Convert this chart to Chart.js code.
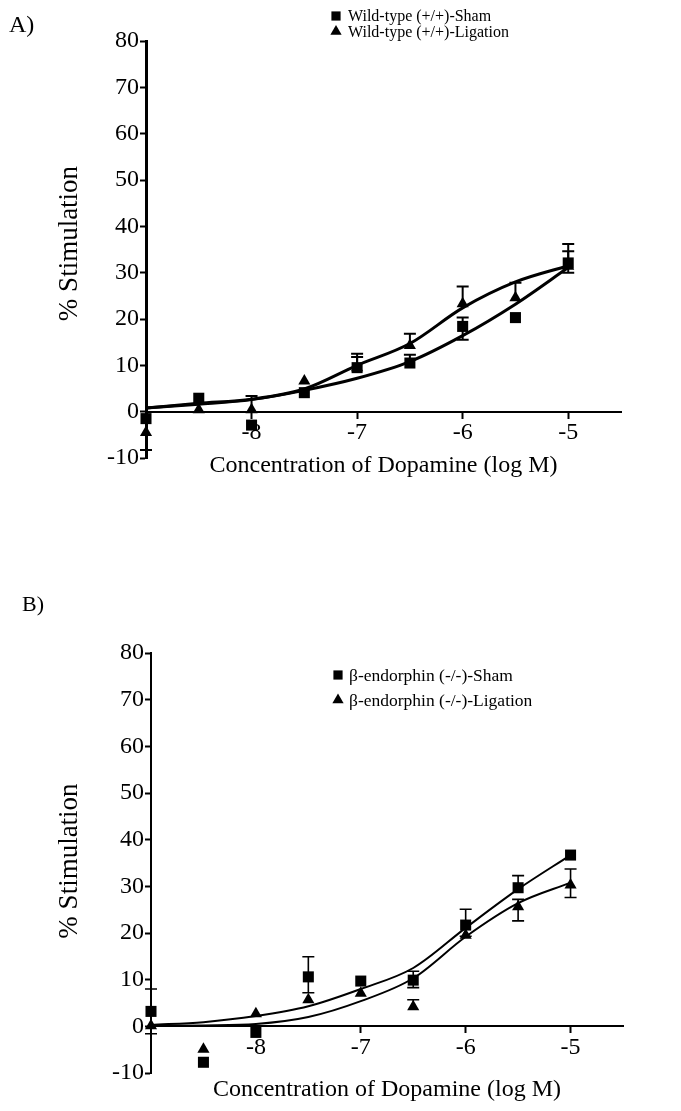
<!DOCTYPE html>
<html>
<head>
<meta charset="utf-8">
<script src="https://cdn.jsdelivr.net/npm/chart.js@4.4.0/dist/chart.umd.min.js"></script>
<style>
  html, body { margin: 0; padding: 0; background: #fff; width: 681px; height: 1111px; overflow: hidden; }
  .panel { position: absolute; left: 0; }
  .tag { position: absolute; font-family: 'Liberation Serif', 'Times New Roman', serif; color: #000; line-height: 1; }
</style>
</head>
<body>
<div class="panel" style="top:0px"><canvas id="chartA" width="681" height="536"></canvas></div>
<div class="panel" style="top:540px"><canvas id="chartB" width="681" height="620"></canvas></div>
<div class="tag" style="left:9px; top:12px; font-size:24px;">A)</div>
<div class="tag" style="left:22px; top:593px; font-size:22px;">B)</div>
<script>
// log molar dopamine concentrations
const logDose = [-9, -8.5, -8, -7.5, -7, -6.5, -6, -5.5, -5];
const xTicks = [-8, -7, -6, -5];

// A) wild-type mice
const wtSham    = [-1.5, 2.9, -2.9, 4.1, 9.5, 10.5, 18.4, 20.3, 32.1];
const wtShamHi  = [null, null, null, null, 12.5, 12.3, 20.3, null, 34.6];
const wtShamLo  = [null, null, null, null, null, null, 15.5, null, 30.0];
const wtShamFit = [0.8, 1.6, 2.6, 4.6, 7.2, 10.8, 16.4, 23.2, 31.1];

const wtLig    = [-4.5, 0.4, 0.4, 6.6, 9.5, 14.3, 23.3, 24.6, 31.4];
const wtLigHi  = [null, null, 3.4, null, 11.8, 16.8, 27.0, 27.8, 36.2];
const wtLigLo  = [-8.3, null, null, null, null, null, null, null, null];
const wtLigFit = [0.8, 1.8, 2.7, 4.9, 10.0, 14.7, 22.4, 28.0, 31.5];

// B) beta-endorphin knockout mice
const koSham    = [3.2, -7.7, -1.3, 10.6, 9.7, 9.9, 21.7, 29.7, 36.7];
const koShamHi  = [8.0, null, null, 14.9, null, 11.8, 25.1, 32.3, null];
const koShamLo  = [-1.6, null, null, 7.2, null, 8.3, null, null, null];
const koShamFit = [0.3, 0.9, 2.2, 4.3, 8.0, 12.5, 21.1, 29.4, 36.7];

const koLig    = [0.1, -4.9, 2.7, 5.7, 7.1, 4.2, 19.5, 25.6, 30.3];
const koLigHi  = [null, null, null, null, null, 5.7, null, 27.2, 33.7];
const koLigLo  = [null, null, null, null, null, null, 19.3, 22.6, 27.6];
const koLigFit = [0.1, 0.2, 0.5, 2.0, 5.4, 10.3, 19.2, 26.4, 30.8];

const SERIF = "'Liberation Serif', 'Times New Roman', serif";

function points(ys) {
    return logDose.map((x, i) => ({ x: x, y: ys[i] }));
}

// vertical error bars with flat caps, taken from errHi / errLo on each dataset
const errorBars = {
    id: 'errorBars',
    afterDatasetsDraw(chart, args, opts) {
        const ctx = chart.ctx;
        const xs = chart.scales.x, ys = chart.scales.y;
        ctx.save();
        ctx.strokeStyle = '#000';
        ctx.lineWidth = opts.width;
        chart.data.datasets.forEach(ds => {
            if (!ds.errHi) return;
            ds.data.forEach((p, i) => {
                [ds.errHi[i], ds.errLo[i]].forEach(end => {
                    if (end === null || end === undefined) return;
                    const px = xs.getPixelForValue(p.x);
                    const py = ys.getPixelForValue(p.y);
                    const pe = ys.getPixelForValue(end);
                    ctx.beginPath();
                    ctx.moveTo(px, py);
                    ctx.lineTo(px, pe);
                    ctx.moveTo(px - opts.cap, pe);
                    ctx.lineTo(px + opts.cap, pe);
                    ctx.stroke();
                });
            });
        });
        ctx.restore();
    }
};

// legend with filled markers, drawn inside the plot
const markerLegend = {
    id: 'markerLegend',
    afterDraw(chart, args, opts) {
        const ctx = chart.ctx;
        ctx.save();
        ctx.fillStyle = '#000';
        ctx.strokeStyle = '#000';
        ctx.font = opts.size + 'px ' + SERIF;
        ctx.textBaseline = 'middle';
        const items = chart.data.datasets.filter(ds => ds.showLine === false);
        items.forEach((ds, i) => {
            const y = opts.y + i * opts.row;
            Chart.helpers.drawPoint(ctx, { pointStyle: ds.pointStyle, radius: opts.radius, rotation: 0, borderWidth: 0 }, opts.x, y);
            ctx.fillText(ds.label, opts.x + opts.gap, y + 1);
        });
        ctx.restore();
    }
};

// rotated y-axis caption, centred near the middle of the plot
const yCaption = {
    id: 'yCaption',
    afterDraw(chart, args, opts) {
        const ctx = chart.ctx;
        const area = chart.chartArea;
        ctx.save();
        ctx.translate(opts.x, (area.top + area.bottom) / 2 + opts.shift);
        ctx.rotate(-Math.PI / 2);
        ctx.font = opts.size + 'px ' + SERIF;
        ctx.fillStyle = '#000';
        ctx.textAlign = 'center';
        ctx.textBaseline = 'middle';
        ctx.fillText(opts.text, 0, 0);
        ctx.restore();
    }
};

function makePanel(id, cfg) {
    const markerSet = (label, ys, hi, lo, style, r) => ({
        label: label,
        data: points(ys),
        errHi: hi,
        errLo: lo,
        showLine: false,
        pointStyle: style,
        pointRadius: r,
        pointBackgroundColor: '#000',
        pointBorderColor: '#000',
        pointBorderWidth: 0,
        clip: false
    });
    const fitLine = (ys) => ({
        data: points(ys),
        showLine: true,
        borderColor: '#000',
        borderWidth: cfg.lineWidth,
        pointRadius: 0,
        cubicInterpolationMode: 'monotone',
        clip: false
    });

    return new Chart(document.getElementById(id), {
        type: 'scatter',
        data: {
            datasets: [
                markerSet(cfg.labels[0], cfg.sham, cfg.shamHi, cfg.shamLo, 'rect', 7.8),
                markerSet(cfg.labels[1], cfg.lig, cfg.ligHi, cfg.ligLo, 'triangle', 7),
                fitLine(cfg.shamFit),
                fitLine(cfg.ligFit)
            ]
        },
        plugins: [errorBars, markerLegend, yCaption],
        options: {
            responsive: false,
            animation: false,
            events: [],
            layout: {
                padding: { left: 0, top: cfg.top, right: cfg.padRight, bottom: cfg.padBottom }
            },
            plugins: {
                legend: { display: false },
                tooltip: { enabled: false },
                errorBars: { width: cfg.errWidth, cap: 6 },
                markerLegend: cfg.legend,
                yCaption: { text: '% Stimulation', x: 70, shift: cfg.captionShift, size: 27 }
            },
            scales: {
                x: {
                    type: 'linear',
                    min: -9,
                    max: -4.5,
                    position: { y: 0 },
                    afterBuildTicks: (scale) => {
                        scale.ticks = xTicks.map(v => ({ value: v }));
                    },
                    afterFit: (scale) => {
                        scale.height = cfg.xBoxHeight;
                    },
                    border: { display: true, color: '#000', width: 2 },
                    grid: { drawOnChartArea: false, drawTicks: true, tickLength: 6, color: '#000', tickColor: '#000', tickWidth: 2 },
                    ticks: {
                        color: '#000',
                        padding: 1,
                        maxRotation: 0,
                        font: { family: SERIF, size: 24 }
                    },
                    title: {
                        display: true,
                        text: 'Concentration of Dopamine (log M)',
                        color: '#000',
                        font: { family: SERIF, size: 24 },
                        padding: { top: 4, bottom: 4 }
                    }
                },
                y: {
                    type: 'linear',
                    min: -10,
                    max: 80,
                    position: 'left',
                    afterFit: (scale) => {
                        scale.width = cfg.left;
                    },
                    border: { display: true, color: '#000', width: cfg.yAxisWidth },
                    grid: { drawOnChartArea: false, drawTicks: true, tickLength: 6, color: '#000', tickColor: '#000', tickWidth: 2 },
                    ticks: {
                        stepSize: 10,
                        color: '#000',
                        padding: 1,
                        font: { family: SERIF, size: 24 }
                    }
                }
            }
        }
    });
}

makePanel('chartA', {
    labels: ['Wild-type (+/+)-Sham', 'Wild-type (+/+)-Ligation'],
    sham: wtSham, shamHi: wtShamHi, shamLo: wtShamLo, shamFit: wtShamFit,
    lig: wtLig, ligHi: wtLigHi, ligLo: wtLigLo, ligFit: wtLigFit,
    top: 41, left: 146, padRight: 60, padBottom: 78, xBoxHeight: 72,
    lineWidth: 3, errWidth: 2, yAxisWidth: 3, captionShift: -6,
    legend: { x: 336, y: 16, row: 15.5, gap: 12, radius: 6.5, size: 16 }
});

makePanel('chartB', {
    labels: ['\u03b2-endorphin (-/-)-Sham', '\u03b2-endorphin (-/-)-Ligation'],
    sham: koSham, shamHi: koShamHi, shamLo: koShamLo, shamFit: koShamFit,
    lig: koLig, ligHi: koLigHi, ligLo: koLigLo, ligFit: koLigFit,
    top: 113, left: 151, padRight: 58, padBottom: 87, xBoxHeight: 82,
    lineWidth: 2, errWidth: 1.6, yAxisWidth: 2, captionShift: -2,
    legend: { x: 338, y: 135, row: 25, gap: 11, radius: 6.5, size: 17.5 }
});
</script>
</body>
</html>
